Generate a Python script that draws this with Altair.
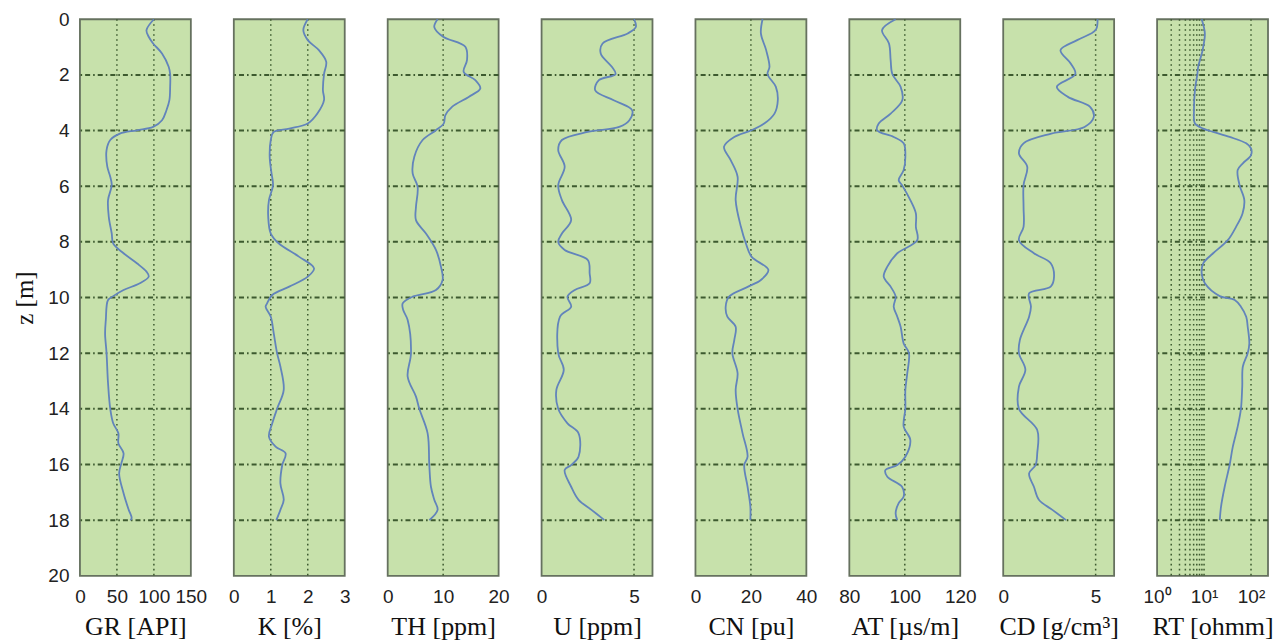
import altair as alt
import pandas as pd

# ---------------- data ----------------
GR_depth = [0, 0.39, 0.63, 0.87, 1.23, 1.71, 1.97, 2.43, 2.91, 3.27, 3.63, 3.87, 3.99, 4.11, 4.34, 4.70,
            5.30, 5.66, 5.96, 6.50, 7.10, 7.70, 8.06, 8.41, 8.77, 9.07, 9.25, 9.49, 9.73, 9.95, 10.09,
            10.81, 11.29, 12.0, 13.08, 14.0, 14.52, 14.88, 15.24, 15.60, 15.96, 16.32, 17.03, 17.63, 17.93, 18.0]
GR_value = [100, 90, 93, 99, 111, 120, 122, 122, 121, 117, 111, 99, 77, 54, 41, 36,
            37, 41, 43, 38, 39, 43, 45, 59, 77, 90, 93, 81, 59, 45, 38,
            35, 34, 36, 38, 41, 45, 52, 52, 59, 56, 53, 59, 66, 70, 68]

K_depth = [0, 0.39, 0.75, 1.11, 1.53, 1.97, 2.55, 2.91, 3.39, 3.75, 3.93, 4.05, 4.34, 4.94, 5.54, 5.96,
           6.50, 7.10, 7.70, 8.06, 8.53, 8.95, 9.25, 9.61, 9.91, 10.21, 10.33, 10.69, 11.29, 12.0, 12.48,
           13.32, 14.0, 14.52, 15.0, 15.36, 15.60, 16.02, 16.68, 17.27, 17.63, 18.0]
K_value = [2.0, 1.88, 2.0, 2.3, 2.5, 2.44, 2.41, 2.44, 2.26, 2.0, 1.5, 1.08, 1.0, 0.97, 1.02, 1.06,
           0.95, 0.93, 1.0, 1.22, 1.76, 2.17, 2.0, 1.5, 1.04, 0.9, 0.86, 1.0, 1.08, 1.17, 1.26,
           1.35, 1.17, 1.04, 0.95, 1.13, 1.4, 1.31, 1.26, 1.35, 1.26, 1.15]

TH_depth = [0, 0.28, 0.63, 0.99, 1.47, 1.89, 2.19, 2.49, 2.79, 3.15, 3.45, 3.75, 3.99, 4.34, 4.94, 5.54,
            6.02, 6.74, 7.22, 7.70, 8.29, 8.89, 9.37, 9.73, 9.97, 10.21, 10.45, 10.81, 12.0, 12.84,
            13.56, 14.0, 14.88, 16.02, 16.80, 17.27, 17.63, 18.0]
TH_value = [9.0, 8.4, 10, 14, 14.3, 13.7, 15.8, 16.7, 14.6, 11.6, 10.4, 10.1, 8.7, 6.3, 4.8, 4.5,
            5.4, 5.1, 5.1, 6.9, 8.7, 9.6, 9.9, 8.7, 4.5, 2.7, 2.8, 3.6, 4.2, 3.6,
            5.1, 5.7, 7.2, 7.5, 7.8, 8.4, 9.0, 7.5]

U_depth = [0, 0.28, 0.51, 0.87, 1.23, 1.71, 1.97, 2.19, 2.55, 2.91, 3.27, 3.63, 3.87, 4.05, 4.34, 4.70,
           5.30, 5.96, 6.50, 7.22, 7.70, 8.00, 8.29, 8.65, 9.13, 9.49, 9.73, 9.97, 10.33, 10.69,
           12.0, 12.60, 13.32, 14.0, 14.52, 14.88, 15.72, 16.02, 16.20, 16.80, 17.27, 17.63, 18.0]
U_value = [5.0, 5.1, 4.66, 3.3, 3.2, 3.8, 4.0, 3.1, 2.9, 3.9, 4.9, 4.75, 4.2, 2.5, 1.1, 0.9,
           1.25, 0.9, 1.1, 1.6, 1.1, 0.9, 1.25, 2.5, 2.6, 2.6, 1.8, 1.4, 1.6, 1.0,
           0.9, 1.2, 0.8, 0.9, 1.4, 2.0, 2.0, 1.6, 1.25, 1.6, 2.0, 2.7, 3.4]

CN_depth = [0, 0.51, 1.11, 1.71, 1.97, 2.43, 2.91, 3.39, 3.75, 3.99, 4.23, 4.58, 5.06, 5.66, 6.50, 7.46,
            8.06, 8.53, 9.01, 9.37, 9.61, 9.97, 10.33, 10.69, 11.05, 11.53, 12.0, 12.72, 13.32, 14.0,
            14.88, 15.72, 16.02, 16.80, 17.51, 18.0]
CN_value = [24.2, 23.6, 25.5, 26.7, 26, 29, 29.7, 28.5, 24.8, 20.2, 14, 10.3, 12.7, 15.2, 14.5, 16.4,
            18.2, 20.2, 26.3, 23.6, 19, 12.1, 10.9, 11.5, 14.5, 14, 13.3, 15.2, 14.5, 15.2,
            17, 18.8, 17.6, 18.8, 19.8, 19.8]

AT_depth = [0, 0.39, 0.87, 1.47, 1.97, 2.43, 2.91, 3.39, 3.75, 3.99, 4.23, 4.46, 4.94, 5.42, 5.78, 5.96,
            6.50, 6.98, 7.46, 7.94, 8.41, 8.89, 9.25, 9.61, 9.97, 10.33, 10.69, 11.05, 11.65, 12.0,
            12.72, 13.32, 14.0, 14.64, 15.12, 15.72, 16.02, 16.20, 16.44, 16.80, 17.15, 17.39, 17.75, 18.0]
AT_value = [96.7, 91.8, 94.3, 94.9, 95.5, 98.5, 99.1, 94.9, 90.6, 90, 96, 99.6, 100.2, 99.6, 97.8, 99,
            102, 104, 104, 104.5, 97.3, 93.7, 92.4, 94.9, 96.7, 96, 97.3, 98.5, 99.6, 101.5,
            100.9, 100.2, 100.2, 99.6, 102, 100.2, 97.3, 93, 93.7, 99, 99.6, 97.8, 96.7, 97.3]

CD_depth = [0, 0.39, 0.75, 1.11, 1.59, 1.97, 2.43, 2.79, 3.15, 3.51, 3.87, 4.11, 4.46, 4.82, 5.30, 5.96,
            6.74, 7.46, 7.94, 8.41, 8.77, 9.25, 9.61, 9.85, 10.33, 10.69, 11.53, 12.0, 12.60, 13.20,
            14.0, 14.76, 15.60, 16.02, 16.32, 16.80, 17.27, 17.63, 18.0]
CD_value = [5.1, 5.0, 4.0, 3.1, 3.65, 3.9, 2.9, 3.5, 4.7, 4.9, 4.4, 2.6, 1.1, 0.85, 1.3, 1.1,
            1.1, 1.1, 0.85, 1.66, 2.57, 2.75, 2.57, 1.4, 1.5, 1.4, 0.9, 0.85, 1.2, 0.85,
            0.85, 1.84, 1.84, 1.75, 1.4, 1.66, 1.93, 2.66, 3.4]

RT_depth = [0, 0.51, 1.11, 1.71, 1.97, 2.55, 3.27, 3.75, 3.93, 4.05, 4.23, 4.46, 4.64, 4.88, 5.18, 5.42,
            5.96, 6.50, 6.98, 7.46, 7.94, 8.41, 8.77, 9.13, 9.49, 9.95, 10.09, 10.33, 10.69, 11.05,
            11.65, 12.0, 12.48, 13.20, 14.0, 14.64, 15.36, 16.02, 16.80, 17.51, 18.0]
RT_value = [8.9, 10.4, 9.3, 7.5, 7.2, 6.4, 6.1, 6.4, 9.6, 15.6, 35, 79, 100, 100, 67, 52,
            57, 72, 66, 48, 32, 15.6, 9.6, 8.9, 10.4, 21.6, 45, 61, 79, 85,
            92, 85, 67, 65, 61, 52, 41, 35, 27.5, 23, 21.6]

# axes / grids
DEPTH_TICKS = [0, 2, 4, 6, 8, 10, 12, 14, 16, 18, 20]
DEPTH_GRID = [2, 4, 6, 8, 10, 12, 14, 16, 18]

PANELS = [
    ("GR [API]", GR_depth, GR_value, [0, 150], [0, 50, 100, 150], [50, 100], False),
    ("K [%]", K_depth, K_value, [0, 3], [0, 1, 2, 3], [1, 2], False),
    ("TH [ppm]", TH_depth, TH_value, [0, 20], [0, 10, 20], [10], False),
    ("U [ppm]", U_depth, U_value, [0, 6], [0, 5], [5], False),
    ("CN [pu]", CN_depth, CN_value, [0, 40], [0, 20, 40], [20], False),
    ("AT [µs/m]", AT_depth, AT_value, [80, 120], [80, 100, 120], [100], False),
    ("CD [g/cm³]", CD_depth, CD_value, [0, 6], [0, 5], [5], False),
    ("RT [ohmm]", RT_depth, RT_value, [1, 230], [1, 10, 100], [2, 3, 4, 5, 6, 7, 8, 9, 10, 100], True),
]

# ---------------- styling ----------------
LINE_COLOR = "#6284bb"
HGRID_COLOR = "#3d5a2f"
VGRID_COLOR = "#3d5a2f"
BG = "#c7e1ab"
FRAME = "#66715f"
W, H = 111, 557
SANS = "Liberation Sans, Arial, Helvetica, sans-serif"
SERIF = "Times New Roman, Liberation Serif, DejaVu Serif, serif"


def make_panel(idx, title, depth, values, domain, ticks, vgrid, is_log):
    yscale = alt.Scale(domain=[0, 20], reverse=True, nice=False, zero=False)
    if is_log:
        xscale = alt.Scale(type="log", domain=domain, nice=False)
        label_expr = "datum.value == 1 ? '10⁰' : (datum.value == 10 ? '10¹' : '10²')"
    else:
        xscale = alt.Scale(domain=domain, nice=False, zero=False)
        label_expr = None

    axis_kwargs = dict(values=ticks, title=title, grid=False, ticks=False, domain=False,
                       labelFont=SANS, labelFontSize=19, labelColor="#222222", labelPadding=12,
                       labelFlush=False, labelOverlap=False,
                       titleFont=SERIF, titleFontSize=26, titleFontWeight="normal",
                       titleColor="#111111", titlePadding=7)
    if label_expr:
        axis_kwargs["labelExpr"] = label_expr
    xaxis = alt.Axis(**axis_kwargs)

    if idx == 0:
        yaxis = alt.Axis(values=DEPTH_TICKS, title="z [m]", grid=False, ticks=False, domain=False,
                         labelFont=SANS, labelFontSize=19, labelColor="#222222", labelPadding=11,
                         labelFlush=False,
                         titleFont=SERIF, titleFontSize=25, titleFontWeight="normal",
                         titleColor="#111111", titlePadding=10)
    else:
        yaxis = None

    line_df = pd.DataFrame({"depth": depth, "value": values})
    vdf = pd.DataFrame({"g": vgrid})
    hdf = pd.DataFrame({"d": DEPTH_GRID})

    vrules = alt.Chart(vdf).mark_rule(color=VGRID_COLOR, strokeWidth=1.5, strokeDash=[1.6, 3.4]).encode(
        x=alt.X("g:Q", scale=xscale, axis=xaxis)
    )
    hrules = alt.Chart(hdf).mark_rule(color=HGRID_COLOR, strokeWidth=2, strokeDash=[5, 3, 1.6, 3]).encode(
        y=alt.Y("d:Q", scale=yscale, axis=yaxis)
    )
    line = alt.Chart(line_df).mark_line(color=LINE_COLOR, strokeWidth=1.8, interpolate="catmull-rom").encode(
        x=alt.X("value:Q", scale=xscale, axis=xaxis),
        y=alt.Y("depth:Q", scale=yscale, axis=yaxis),
        order=alt.Order("depth:Q"),
    )
    return alt.layer(vrules, hrules, line).properties(width=W, height=H)


panels = [make_panel(i, *p) for i, p in enumerate(PANELS)]

chart = alt.hconcat(*panels, spacing=43, bounds="flush").properties(
    padding={"left": 11, "top": 9, "right": 0, "bottom": 0},
    background="white",
).configure_view(fill=BG, stroke=FRAME, strokeWidth=1.8)

chart.save("out.html", embed_options={"renderer": "svg", "actions": False})
